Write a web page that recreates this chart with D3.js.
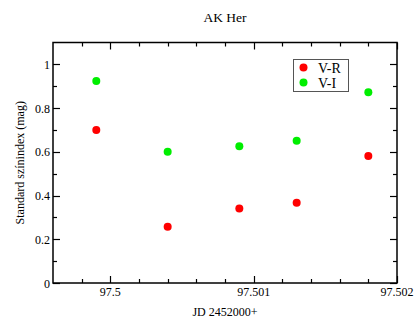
<!DOCTYPE html>
<html>
<head>
<meta charset="utf-8">
<script src="https://cdn.jsdelivr.net/npm/d3@7"></script>
<style>
  html, body { margin: 0; padding: 0; background: #fff; }
  svg { display: block; font-family: "Liberation Serif", "Times New Roman", serif; }
</style>
</head>
<body>
<svg id="chart" width="414" height="321"></svg>
<script>
// Observation times (JD - 2452000) and colour indices
const jd = [97.499902, 97.5004, 97.5009, 97.5013, 97.5018];
const vr = [0.700, 0.257, 0.341, 0.367, 0.581];
const vi = [0.924, 0.600, 0.626, 0.651, 0.872];
const xTicks = [97.5, 97.501, 97.502];
const yTicks = [0, 0.2, 0.4, 0.6, 0.8, 1];
const seriesNames = ["V-R", "V-I"];
const seriesColors = ["#ff0000", "#00ee00"];

const svg = d3.select("#chart");
const plotL = 53, plotR = 397, plotT = 42.5, plotB = 283;

const x = d3.scaleLinear().domain([97.4996, 97.502]).range([plotL, plotR]);
const y = d3.scaleLinear().domain([0, 1.1]).range([plotB, plotT]);

const majorLen = 7, minorLen = 4;
const xMinor = d3.range(97.4998, 97.50201, 0.0002).filter(v => !xTicks.some(t => Math.abs(t - v) < 1e-7));
const yMinor = d3.range(0.1, 1.1, 0.2);

// tick segments on all four sides, pointing inward
const segs = [];
function vtick(xv, len) {
  const px = Math.round(x(xv)) + 0.5;
  segs.push([px, plotB, px, plotB - len], [px, plotT, px, plotT + len]);
}
function htick(yv, len) {
  const py = Math.round(y(yv)) + 0.5;
  segs.push([plotL, py, plotL + len, py], [plotR, py, plotR - len, py]);
}
xTicks.forEach(t => vtick(t, majorLen));
xMinor.forEach(t => vtick(t, minorLen));
yTicks.forEach(t => htick(t, majorLen));
yMinor.forEach(t => htick(t, minorLen));

svg.append("g").selectAll("line").data(segs).join("line")
  .attr("x1", d => d[0]).attr("y1", d => d[1])
  .attr("x2", d => d[2]).attr("y2", d => d[3])
  .attr("stroke", "#000").attr("stroke-width", 1.2);

// frame
svg.append("rect")
  .attr("x", plotL).attr("y", plotT)
  .attr("width", plotR - plotL).attr("height", plotB - plotT)
  .attr("fill", "none").attr("stroke", "#000").attr("stroke-width", 1.5);

// tick labels
svg.append("g").selectAll("text").data(xTicks).join("text")
  .attr("x", d => x(d)).attr("y", plotB + 12.5)
  .attr("text-anchor", "middle").attr("font-size", 12)
  .text(d => d3.format("")(d));
svg.append("g").selectAll("text").data(yTicks).join("text")
  .attr("x", plotL - 3).attr("y", d => y(d) + 4.5)
  .attr("text-anchor", "end").attr("font-size", 12)
  .text(d => d3.format("")(d));

// titles
svg.append("text").attr("x", 225).attr("y", 22)
  .attr("text-anchor", "middle").attr("font-size", 13.5).text("AK Her");
svg.append("text").attr("x", 225).attr("y", 316)
  .attr("text-anchor", "middle").attr("font-size", 12).text("JD 2452000+");
svg.append("text")
  .attr("transform", `translate(24,${(plotT + plotB) / 2}) rotate(-90)`)
  .attr("text-anchor", "middle").attr("font-size", 12).text("Standard színindex (mag)");

// data points
[vr, vi].forEach((vals, i) => {
  svg.append("g").selectAll("circle").data(vals).join("circle")
    .attr("cx", (d, j) => x(jd[j])).attr("cy", d => y(d))
    .attr("r", 4).attr("fill", seriesColors[i]);
});

// legend
const lg = svg.append("g");
lg.append("rect").attr("x", 293.5).attr("y", 59.5).attr("width", 55).attr("height", 32)
  .attr("fill", "#fff").attr("stroke", "#555").attr("stroke-width", 1);
seriesNames.forEach((name, i) => {
  const cy = 67.5 + i * 15;
  lg.append("circle").attr("cx", 303.5).attr("cy", cy).attr("r", 4).attr("fill", seriesColors[i]);
  lg.append("text").attr("x", 318).attr("y", cy + 5).attr("font-size", 14).text(name);
});
</script>
</body>
</html>
